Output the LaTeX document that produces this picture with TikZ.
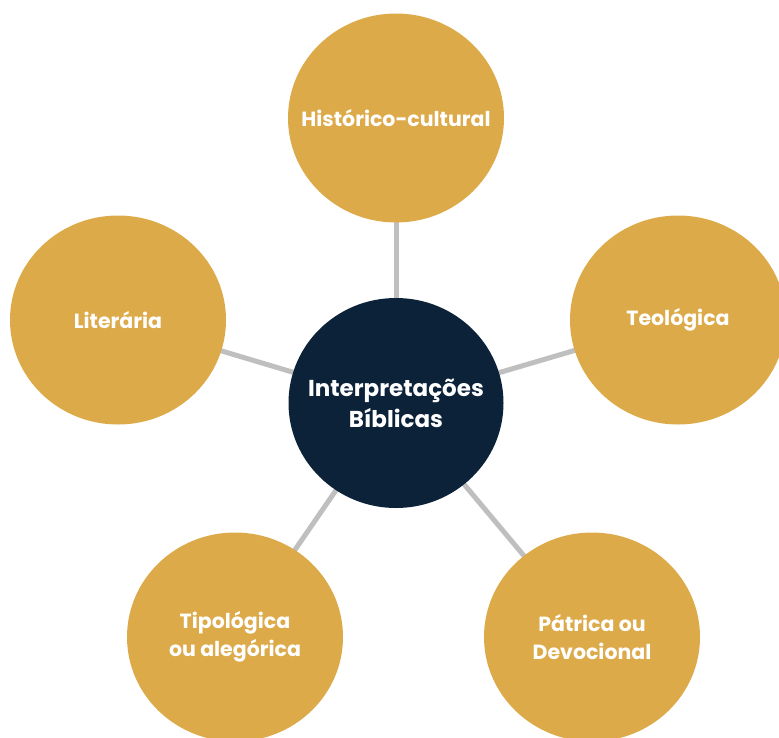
\documentclass[tikz,border=0pt]{standalone}
\usepackage{fontspec}
\setmainfont{Poppins}
\usetikzlibrary{shapes.geometric,backgrounds}
\begin{document}
\begin{tikzpicture}[x=1pt,y=-1pt]
\definecolor{gold}{HTML}{DDAA4A}
\definecolor{navy}{HTML}{0B2239}
\definecolor{spoke}{HTML}{BFBFBF}
\tikzset{bubble/.style={ellipse, fill=gold, minimum width=216pt, minimum height=209pt, inner xsep=-40pt, inner ysep=0pt, text=white, font=\fontsize{20.5}{28}\selectfont\bfseries, align=center}}
\useasboundingbox (0,0) rectangle (779,737);
\node[bubble, fill=navy, minimum width=215pt, minimum height=210pt, font=\fontsize{23}{31}\selectfont\bfseries] (hub) at (396,403) {Interpretações\\Bíblicas};
\foreach \x/\y/\name/\txt in {396/118/hist/{Histórico-cultural}, 678/320/teo/{Teológica}, 118/320/lit/{Literária}, 235/637/tipo/{Tipológica\\ou alegórica}, 592/637/patr/{Pátrica ou\\Devocional}}
  \node[bubble] (\name) at (\x,\y) {\txt};
\begin{scope}[on background layer]
\foreach \name in {hist,teo,lit,tipo,patr} \draw[spoke, line width=5pt] (hub.center) -- (\name.center);
\end{scope}
\end{tikzpicture}
\end{document}
